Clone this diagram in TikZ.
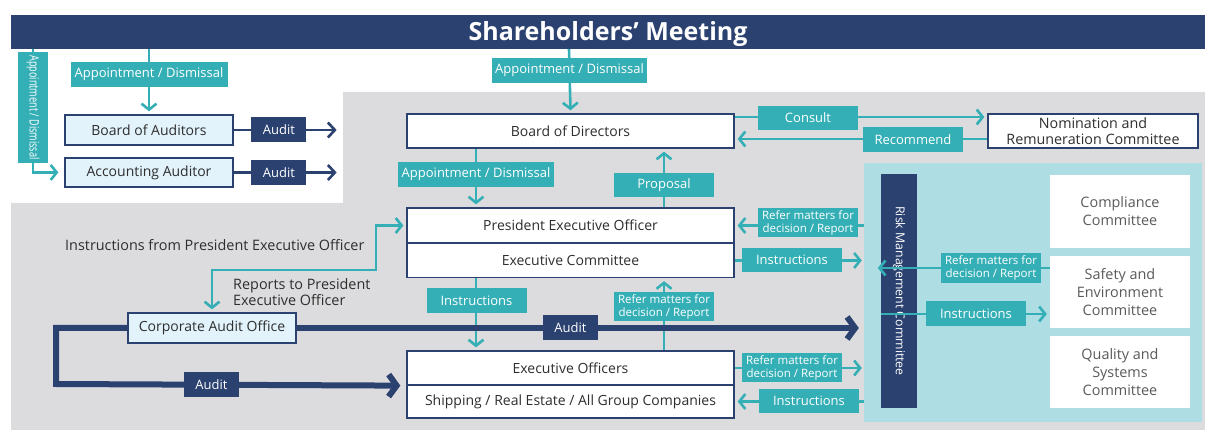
\documentclass[tikz,border=0pt]{standalone}
\usepackage{fontspec}
\setmainfont{Open Sans}
\usetikzlibrary{arrows.meta,positioning,calc}
\definecolor{navy}{HTML}{2B4170}
\definecolor{teal}{HTML}{35AFB6}
\definecolor{bg}{HTML}{DCDCDE}
\definecolor{panel}{HTML}{AEDEE4}
\definecolor{pale}{HTML}{E2F3FC}
\definecolor{ink}{HTML}{2E2E2E}
\definecolor{soft}{HTML}{5A5A5A}
\tikzset{
  unit/.style={draw=navy,line width=1.3pt,fill=white,text=ink,inner sep=0pt,font=\fontsize{14}{16}\selectfont,minimum width=#1},
  unit/.default=327pt,
  aud/.style={unit=168pt,fill=pale,minimum height=30pt},
  tag/.style={fill=teal,text=white,inner sep=0pt,align=center,font=\fontsize{13}{14}\selectfont,minimum width=100pt,minimum height=25pt},
  rtag/.style={tag,font=\fontsize{11.5}{13}\selectfont,minimum height=29pt},
  ntag/.style={tag,fill=navy,minimum width=55pt},
  cmt/.style={fill=white,text=soft,align=center,inner sep=0pt,font=\fontsize{14.4}{18}\selectfont,minimum width=140pt,minimum height=72pt},
  ar/.style={-{Straight Barb[length=6pt,width=15pt]},line width=2.6pt,draw=teal},
  nar/.style={-{Straight Barb[length=7pt,width=15pt]},line width=2.6pt,draw=navy},
  bar/.style={-{Straight Barb[length=8pt,width=22pt]},line width=6pt,draw=navy},
}

\begin{document}
\begin{tikzpicture}[x=1pt,y=-1pt]
  \useasboundingbox (0,0) rectangle (1205,430);
  % grey backdrop of the executive side
  \fill[bg] (343,92) -- (1205,92) -- (1205,430) -- (11,430) -- (11,203) -- (343,203) -- cycle;
  \node[fill=navy,text=white,minimum width=1194pt,minimum height=34pt,inner sep=0pt,text height=18pt,text depth=1pt,
        font=\fontsize{25}{28}\selectfont\bfseries] (sm) at (608,32) {Shareholders’ Meeting};

  % auditors
  \node[aud] (boa) at (149,130) {Board of Auditors};
  \node[aud,minimum height=29pt] (aa) at (149,172.5) {Accounting Auditor};
  \foreach \n in {boa,aa}
    \draw[nar] (\n.east) -- ++(103,0) node[ntag,pos=0.44] {Audit};
  \draw[ar] (sm.south -| boa.north) -- ([yshift=3pt]boa.north)
    node[tag,minimum width=157pt,pos=0.4] {Appointment / Dismissal};
  \draw[ar] (33,49) |- ([xshift=-6pt]aa.west);
  \node[tag,rotate=-90,minimum width=111pt,minimum height=30pt] (apv) at (33,107.5)
    {\scalebox{0.7}[1]{Appointment / Dismissal}};

  % board and committees on its right
  \node[unit,minimum height=34pt] (bod) at (570.5,131) {Board of Directors};
  \node[unit=210pt,minimum height=34pt,align=center,font=\fontsize{14.3}{16}\selectfont] (nrc) at (1093,131)
    {Nomination and\\Remuneration Committee};
  \draw[ar] (sm.south -| 569,0) -- ([yshift=3pt]bod.north)
    node[tag,minimum width=155pt,pos=0.35] {Appointment / Dismissal};
  \draw[ar] ([yshift=14pt]bod.east) -- ([yshift=14pt,xshift=-3pt]nrc.west);
  \node[tag,minimum height=24pt] (cns) at (808,118) {Consult};
  \draw[ar] ([yshift=-8pt]nrc.west) -- ([yshift=-8pt,xshift=3pt]bod.east);
  \node[tag] (rec) at (913,139.5) {Recommend};

  % executive block
  \node[unit,minimum height=35pt] (peo) at (570.5,225.5) {President Executive Officer};
  \node[unit,minimum height=34pt] (exc) at (570.5,260.5) {Executive Committee};
  \node[unit,minimum height=34pt] (eo) at (570.5,368) {Executive Officers};
  \node[unit,minimum height=33pt] (grp) at (570.5,401.5) {Shipping / Real Estate / All Group Companies};

  \draw[ar] ([xshift=-94.5pt]bod.south) -- ([xshift=-94.5pt,yshift=3pt]peo.north);
  \node[tag,minimum width=156pt] (apd) at (476,174.5) {Appointment / Dismissal};
  \draw[ar] ([xshift=93.5pt]peo.north) -- ([xshift=93.5pt,yshift=-3pt]bod.south);
  \node[tag,minimum height=24pt] (prp) at (664,185) {Proposal};
  \draw[ar] ([xshift=-94.5pt]exc.south) -- ([xshift=-94.5pt,yshift=3pt]eo.north);
  \node[tag] (ins) at (476.5,300.5) {Instructions};
  \draw[ar] ([xshift=93.5pt]eo.north) -- ([xshift=93.5pt,yshift=-3pt]exc.south);
  \node[rtag] (ref) at (664,306.5) {Refer matters for\\decision / Report};

  % risk management panel
  \node[fill=panel,minimum width=338pt,minimum height=259pt,inner sep=0pt] (rp) at (1033,292.5) {};
  \node[fill=navy,text=white,rotate=-90,minimum width=234pt,minimum height=36pt,inner sep=0pt,
        font=\fontsize{12.3}{14}\selectfont] (rmc) at (899,291) {Risk Management Committee};
  \node[cmt,minimum height=73pt] (cc) at (1120,211.5) {Compliance\\Committee};
  \node[cmt] (sec) at (1120,292) {Safety and\\Environment\\Committee};
  \node[cmt] (qsc) at (1120,372) {Quality and\\Systems\\Committee};
  \draw[ar] ([yshift=24pt]sec.west) -- ([yshift=24pt,xshift=-3pt]sec.west -| rmc.south);
  \node[rtag,minimum height=30pt] at (991,268) {Refer matters for\\decision / Report};
  \draw[ar] ([yshift=-22pt]sec.west -| rmc.south) -- ([yshift=-22pt,xshift=-3pt]sec.west);
  \node[tag] at (976,313.5) {Instructions};

  \draw[ar] (peo.east -| rp.west) -- ([xshift=3pt]peo.east);
  \node[rtag] at (808,222.5) {Refer matters for\\decision / Report};
  \draw[ar] (exc.east) -- ([xshift=-2pt]exc.east -| rp.west);
  \node[tag,minimum height=24pt] at (792,260) {Instructions};
  \draw[ar] (eo.east) -- ([xshift=-2pt]eo.east -| rp.west);
  \node[rtag] at (792,367.5) {Refer matters for\\decision / Report};
  \draw[ar] (grp.east -| rp.west) -- ([xshift=3pt]grp.east);
  \node[tag,minimum height=24pt] at (809,401) {Instructions};

  % internal audit
  \node[aud] (cao) at (212,328) {Corporate Audit Office};
  \coordinate (bend) at (376,270);
  \draw[ar,{Straight Barb[length=6pt,width=15pt]}-{Straight Barb[length=6pt,width=15pt]},shorten <=3pt,shorten >=3pt]
    (peo.west) -| (bend) -| (cao.north);
  \node[anchor=west,text=ink,font=\fontsize{14.4}{16}\selectfont,inner sep=0pt] (ipe) at (65,245)
    {Instructions from President Executive Officer};
  \node[anchor=west,text=ink,align=left,font=\fontsize{14.4}{16}\selectfont,inner sep=0pt] (rpe) at (233,292)
    {Reports to President\\Executive Officer};
  \coordinate (lp) at (56,384);
  \draw[bar,shorten >=6pt] (cao.west) -| (lp) -- (eo.south west);
  \node[ntag] at (211.5,384.5) {Audit};
  \draw[bar,shorten >=5pt] (cao.east) -- (cao.east -| rp.west);
  \node[ntag] at (570.5,327.5) {Audit};
\end{tikzpicture}
\end{document}
